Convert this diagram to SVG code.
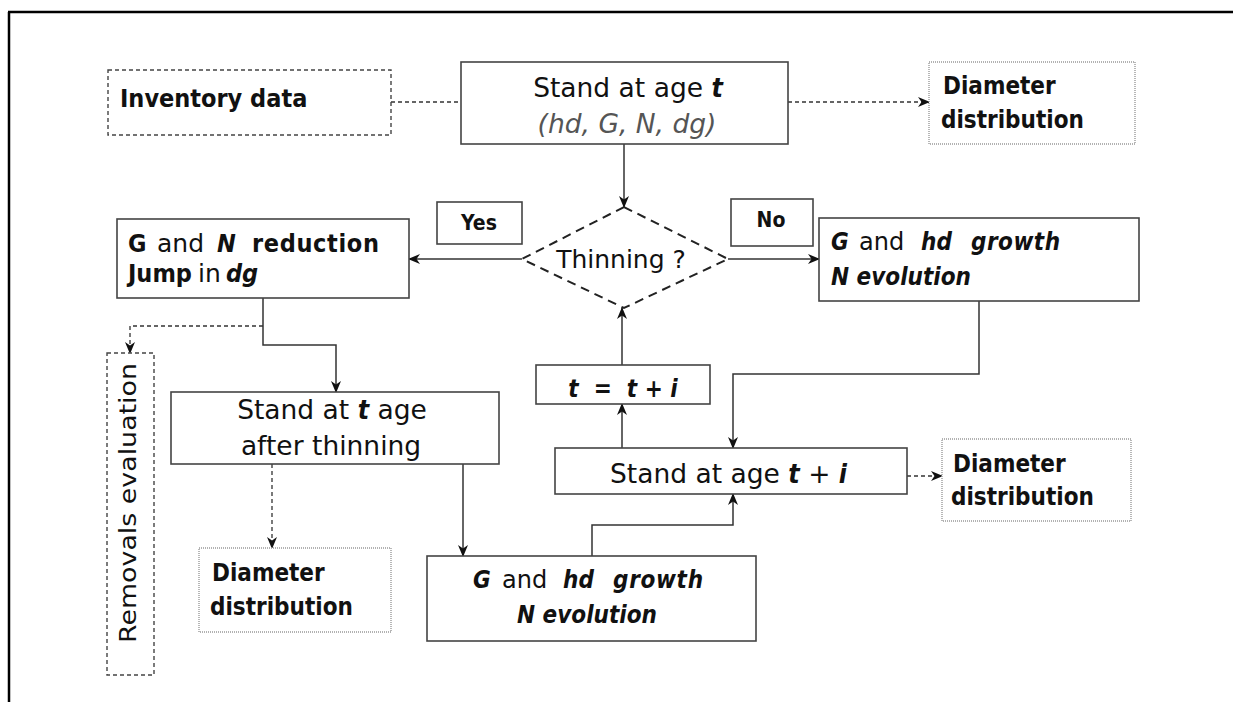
<svg xmlns="http://www.w3.org/2000/svg" width="1233" height="702" viewBox="0 0 1233 702">
<style>
text{font-family:"DejaVu Sans","Liberation Sans",sans-serif;fill:#111}
.box{fill:#fff;stroke:#444;stroke-width:1.6}
.dbox{fill:#fff;stroke:#444;stroke-width:1.4;stroke-dasharray:4 3}
.pbox{fill:#fff;stroke:#999;stroke-width:1.4;stroke-dasharray:1 1}
.dia{fill:#fff;stroke:#222;stroke-width:2;stroke-dasharray:9 6}
.c{fill:none;stroke:#333;stroke-width:1.5}
.cd{fill:none;stroke:#333;stroke-width:1.3;stroke-dasharray:4 3}
.b{font-family:"DejaVu Sans Condensed","DejaVu Sans",sans-serif;font-stretch:condensed;font-weight:bold}
.bi{font-family:"DejaVu Sans Condensed","DejaVu Sans",sans-serif;font-stretch:condensed;font-weight:bold;font-style:italic}
.n{font-family:"DejaVu Sans",sans-serif;font-stretch:normal;font-weight:normal;font-style:normal}
.i{font-style:italic}
.reg{font-size:26.5px}
.sm{font-size:24px}
</style>
<defs>
<marker id="ah" viewBox="0 0 12 10" refX="11" refY="5" markerWidth="12" markerHeight="10" markerUnits="userSpaceOnUse" orient="auto">
<path d="M0,0 L12,5 L0,10 L3.5,5 Z" fill="#111"/>
</marker>
</defs>
<path d="M8 12 H1233 M9 12 V702" fill="none" stroke="#000" stroke-width="2.5"/>
<g id="connectors">
<path class="c" d="M624 144 V207" marker-end="url(#ah)"/>
<path class="c" d="M522 259 H409" marker-end="url(#ah)"/>
<path class="c" d="M728 259 H819" marker-end="url(#ah)"/>
<path class="c" d="M979 301 V374 H733 V448" marker-end="url(#ah)"/>
<path class="c" d="M622 448 V404" marker-end="url(#ah)"/>
<path class="c" d="M622 365 V308" marker-end="url(#ah)"/>
<path class="c" d="M263 298 V345 H336 V392" marker-end="url(#ah)"/>
<path class="c" d="M463 464 V556" marker-end="url(#ah)"/>
<path class="c" d="M592 556 V525 H733 V494" marker-end="url(#ah)"/>
<path class="cd" d="M391 102 H461"/>
<path class="cd" d="M788 102 H929" marker-end="url(#ah)"/>
<path class="cd" d="M263 326 H130 V353" marker-end="url(#ah)"/>
<path class="cd" d="M272 464 V548" marker-end="url(#ah)"/>
<path class="cd" d="M907 476 H942" marker-end="url(#ah)"/>
</g>
<g id="inventory">
<rect class="dbox" x="108" y="70" width="283" height="65"/>
<text x="120" y="107" class="b" font-size="25">Inventory data</text>
</g>
<g id="stand-t">
<rect class="box" x="461" y="62" width="327" height="82"/>
<text x="628" y="97" text-anchor="middle" class="reg">Stand at age <tspan class="bi">t</tspan></text>
<text x="627" y="133" text-anchor="middle" class="i reg" style="fill:#555">(hd, G, N, dg)</text>
</g>
<g id="diam-top">
<rect class="pbox" x="929" y="62" width="206" height="82"/>
<text class="b sm"><tspan x="943" y="94">Diameter</tspan><tspan x="941" y="128">distribution</tspan></text>
</g>
<g id="thinning">
<path class="dia" d="M624 207 L728 259 L624 308 L522 259 Z"/>
<text x="621" y="268" text-anchor="middle" font-size="25">Thinning ?</text>
</g>
<g id="yes">
<rect class="box" x="437" y="202" width="85" height="42"/>
<text x="479" y="230" text-anchor="middle" class="b" font-size="21">Yes</text>
</g>
<g id="no">
<rect class="box" x="731" y="199" width="82" height="47"/>
<text x="771" y="227" text-anchor="middle" class="b" font-size="21">No</text>
</g>
<g id="reduction">
<rect class="box" x="117" y="219" width="292" height="79"/>
<text font-size="25"><tspan class="b" x="128" y="252">G</tspan><tspan x="157" y="252">and</tspan><tspan class="bi" x="217" y="252">N</tspan><tspan class="b" x="252" y="252" textLength="127" lengthAdjust="spacing">reduction</tspan><tspan class="b" x="128" y="282">Jump</tspan><tspan x="198" y="282">in</tspan><tspan class="bi" x="226" y="282">dg</tspan></text>
</g>
<g id="growth-right">
<rect class="box" x="819" y="218" width="320" height="83"/>
<text font-size="24" class="bi"><tspan x="831" y="250">G</tspan><tspan class="n" x="859" y="250">and</tspan><tspan x="921" y="250">hd</tspan><tspan x="971" y="250" textLength="89" lengthAdjust="spacing">growth</tspan><tspan x="831" y="285">N evolution</tspan></text>
</g>
<g id="removals">
<rect class="dbox" x="107" y="353" width="47" height="322"/>
<text transform="translate(136 503) rotate(-90)" text-anchor="middle" font-size="23" textLength="280" lengthAdjust="spacingAndGlyphs">Removals evaluation</text>
</g>
<g id="stand-after">
<rect class="box" x="171" y="392" width="328" height="72"/>
<text text-anchor="middle" class="reg"><tspan x="332" y="419">Stand at <tspan class="bi">t</tspan> age</tspan><tspan x="331" y="455">after thinning</tspan></text>
</g>
<g id="t-increment">
<rect class="box" x="536" y="365" width="174" height="39"/>
<text x="623" y="397" text-anchor="middle" class="bi" font-size="24" xml:space="preserve">t  =  t + i</text>
</g>
<g id="stand-ti">
<rect class="box" x="555" y="448" width="352" height="46"/>
<text x="610" y="483" class="reg">Stand at age <tspan class="bi">t</tspan> + <tspan class="bi">i</tspan></text>
</g>
<g id="diam-right">
<rect class="pbox" x="942" y="439" width="189" height="82"/>
<text class="b sm"><tspan x="953" y="472">Diameter</tspan><tspan x="951" y="505">distribution</tspan></text>
</g>
<g id="diam-left">
<rect class="pbox" x="199" y="548" width="192" height="84"/>
<text class="b sm"><tspan x="212" y="581">Diameter</tspan><tspan x="210" y="615">distribution</tspan></text>
</g>
<g id="growth-bottom">
<rect class="box" x="427" y="556" width="329" height="85"/>
<text font-size="24" class="bi"><tspan x="473" y="588">G</tspan><tspan class="n" x="502" y="588">and</tspan><tspan x="563" y="588">hd</tspan><tspan x="613" y="588" textLength="90" lengthAdjust="spacing">growth</tspan><tspan x="517" y="623">N evolution</tspan></text>
</g>
</svg>
